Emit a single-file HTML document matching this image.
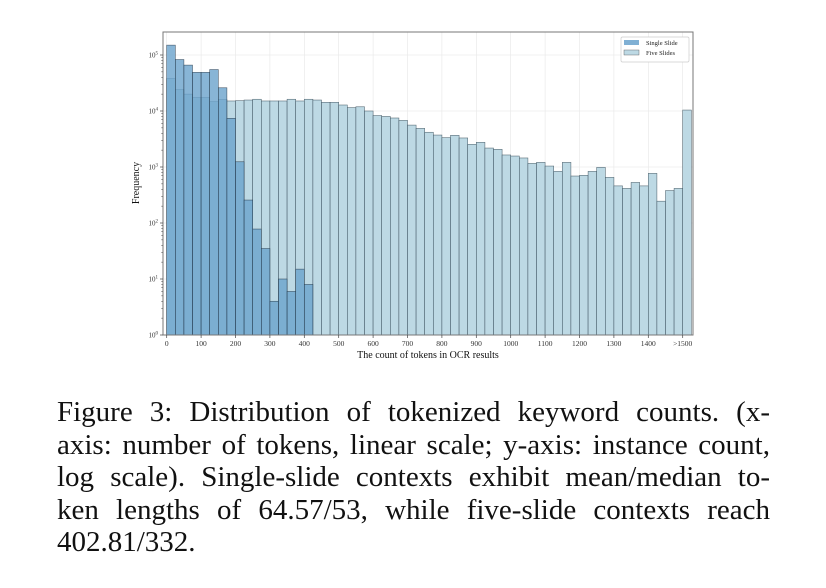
<!DOCTYPE html>
<html><head><meta charset="utf-8"><style>
html,body{margin:0;padding:0;background:#fff;width:826px;height:588px;overflow:hidden}
#chart{position:absolute;left:0;top:0}
.cap{position:absolute;left:57px;width:713px;font-family:"Liberation Serif",serif;font-size:29px;color:#111;white-space:nowrap;text-align:justify;text-align-last:justify;line-height:32px}
.last{text-align-last:left}
</style></head><body>
<svg id="chart" width="826" height="380" xmlns="http://www.w3.org/2000/svg" font-family="Liberation Serif, serif"></svg>
<div class="cap" style="top:396px">Figure 3: Distribution of tokenized keyword counts. (x-</div>
<div class="cap" style="top:428.5px">axis: number of tokens, linear scale; y-axis: instance count,</div>
<div class="cap" style="top:461px">log scale). Single-slide contexts exhibit mean/median to-</div>
<div class="cap" style="top:493.5px">ken lengths of 64.57/53, while five-slide contexts reach</div>
<div class="cap last" style="top:526px">402.81/332.</div>
<script>
const binStarts = [];
for (let i = 0; i <= 60; i++) binStarts.push(i * 25);
const singleSlide = [150000,83000,66000,49000,49000,55000,26000,7400,1240,257,78,35,4,10,6,15,8];
const fiveSlides = [38000,24000,20000,17400,17400,14700,16000,
 15100,15300,15700,16200,15100,15100,15100,16200,15100,16200,15700,14300,14300,12800,11500,11900,10000,8300,8000,7500,6800,5600,4900,4170,
 3720,3340,3680,3300,2540,2760,2180,2070,1640,1570,1450,1160,1210,1040,835,1210,690,710,835,985,653,460,415,530,460,770,245,380,415,10400];
const xTickVals = [0,100,200,300,400,500,600,700,800,900,1000,1100,1200,1300,1400,1500];
const xTickLabels = ["0","100","200","300","400","500","600","700","800","900","1000","1100","1200","1300","1400",">1500"];
const yTickExps = [0,1,2,3,4,5];

const svg = document.getElementById('chart');
const NS = 'http://www.w3.org/2000/svg';
const L=163, R=693, T=32, B=335, binW=25;
const xs = v => 166.7 + v * 0.344;
const ys = v => 335 - Math.log10(v) * 56;
function mk(tag, attrs, parent){const e=document.createElementNS(NS,tag);for(const k in attrs)e.setAttribute(k,attrs[k]);(parent||svg).appendChild(e);return e;}

const grid = mk('g',{});


xTickVals.forEach(v=>{mk('line',{x1:xs(v),x2:xs(v),y1:T,y2:B,stroke:'#e6e6e6','stroke-width':0.6},grid);});
yTickExps.forEach(e=>{mk('line',{x1:L,x2:R,y1:ys(Math.pow(10,e)),y2:ys(Math.pow(10,e)),stroke:'#e6e6e6','stroke-width':0.6},grid);});

const gF = mk('g',{});


fiveSlides.forEach((v,i)=>{
  const x0=xs(binStarts[i]), x1=xs(binStarts[i]+binW), y=ys(v);
  const r=mk('rect',{x:x0,y:y,width:x1-x0,height:B-y,fill:'#bdd9e4',stroke:'#2f4450','stroke-width':0.6,'stroke-opacity':0.75},gF);
  
  
});
const gS = mk('g',{});


singleSlide.forEach((v,i)=>{
  const x0=xs(binStarts[i]), x1=xs(binStarts[i]+binW), y=ys(v);
  const r=mk('rect',{x:x0,y:y,width:x1-x0,height:B-y,fill:'#6aa2cc','fill-opacity':0.8,stroke:'#1f3040','stroke-width':0.6,'stroke-opacity':0.75},gS);
  
  
});

const fr=mk('rect',{x:L,y:T,width:R-L,height:B-T,fill:'none',stroke:'#777','stroke-width':1});



const gx=mk('g',{});


xTickVals.forEach((v,i)=>{
  mk('line',{x1:xs(v),x2:xs(v),y1:B,y2:B+3,stroke:'#444','stroke-width':0.7},gx);
  const t=mk('text',{x:xs(v),y:B+11,'text-anchor':'middle','font-size':7.5,fill:'#333'},gx);
  t.textContent=xTickLabels[i];
  
  
});
const xl=mk('text',{x:428,y:358,'text-anchor':'middle','font-size':10,fill:'#111'});
xl.textContent='The count of tokens in OCR results';



const gy=mk('g',{});


yTickExps.forEach(e=>{
  const y=ys(Math.pow(10,e));
  mk('line',{x1:L-3,x2:L,y1:y,y2:y,stroke:'#444','stroke-width':0.7},gy);
  const t=mk('text',{x:L-5,y:y+2.5,'text-anchor':'end','font-size':7,fill:'#333'},gy);
  t.textContent='10';
  const s=mk('tspan',{dy:-3,'font-size':5},t);
  s.textContent=String(e);
  
  
  if(e<5){for(let m=2;m<10;m++){const yy=ys(m*Math.pow(10,e));mk('line',{x1:L-1.8,x2:L,y1:yy,y2:yy,stroke:'#444','stroke-width':0.5},gy);}}
});
const yl=mk('text',{x:0,y:0,'text-anchor':'middle','font-size':10,fill:'#111',transform:'translate(139,183) rotate(-90)'});
yl.textContent='Frequency';



const lg=mk('g',{});


mk('rect',{x:621,y:37,width:68,height:25,fill:'#fff',stroke:'#ccc','stroke-width':0.7,rx:1.5},lg);
mk('rect',{x:624,y:40,width:15,height:5,fill:'#6aa2cc','fill-opacity':0.85},lg);
mk('rect',{x:624,y:50,width:15,height:5,fill:'#bdd9e4',stroke:'#555','stroke-width':0.4},lg);
const l1=mk('text',{x:646,y:45,'font-size':6.5,fill:'#222'},lg);l1.textContent='Single Slide';


const l2=mk('text',{x:646,y:55,'font-size':6.5,fill:'#222'},lg);l2.textContent='Five Slides';


</script>
</body></html>
